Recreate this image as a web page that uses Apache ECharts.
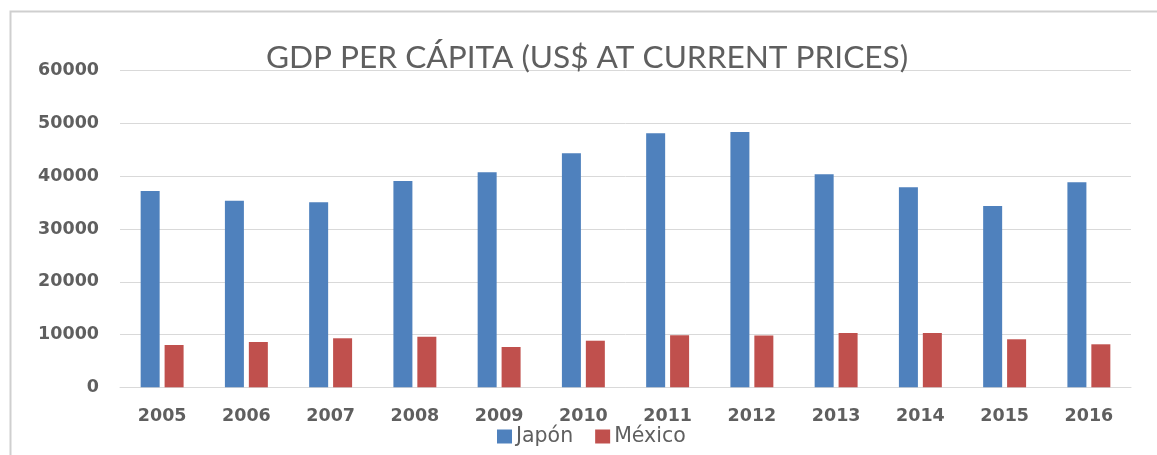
<!DOCTYPE html>
<html>
<head>
<meta charset="utf-8">
<script src="https://cdn.jsdelivr.net/npm/echarts@6/dist/echarts.min.js"></script>
<style>
html,body{margin:0;padding:0;background:#fff;}
#c{width:1157px;height:455px;}
</style>
</head>
<body>
<div id="c"></div>
<script>
const years = ['2005','2006','2007','2008','2009','2010','2011','2012','2013','2014','2015','2016'];
const japon = [37200, 35360, 35060, 39090, 40740, 44340, 48130, 48380, 40360, 37900, 34360, 38850];
const mexico = [8020, 8590, 9290, 9590, 7640, 8830, 9850, 9800, 10290, 10290, 9100, 8150];
const yTicks = [0, 10000, 20000, 30000, 40000, 50000, 60000];

const chart = echarts.init(document.getElementById('c'), null, {renderer: 'canvas'});
const txt = '#5f5f5f';
chart.setOption({
  animation: false,
  backgroundColor: '#fff',
  graphic: [{
    type: 'rect', left: 8, top: 9, silent: true, z: -1,
    shape: {width: 1200, height: 500},
    style: {fill: 'none', stroke: '#cfcfcf', lineWidth: 2}
  }],
  title: {
    text: 'GDP PER CÁPITA (US$ AT CURRENT PRICES)',
    left: 582, textAlign: 'center', top: 37,
    textStyle: {fontFamily: 'Lato', fontWeight: 'normal', fontSize: 31.6, color: txt}
  },
  legend: {
    bottom: 3, left: 492,
    itemWidth: 15, itemHeight: 14, itemGap: 22,
    icon: 'rect',
    textStyle: {fontFamily: 'DejaVu Sans', fontSize: 20.5, color: txt, padding: [0,0,0,-1]},
    data: ['Japón', 'México']
  },
  grid: {left: 120, right: 26, top: 70.7, bottom: 67.7},
  xAxis: {
    type: 'category', data: years,
    axisLine: {lineStyle: {color: '#d9d9d9', width: 1}},
    axisTick: {show: false},
    axisLabel: {fontFamily: 'DejaVu Sans', fontWeight: 'bold', fontSize: 17.5, color: txt, margin: 20}
  },
  yAxis: {
    type: 'value', min: yTicks[0], max: yTicks[yTicks.length-1], interval: 10000,
    axisLine: {show: false}, axisTick: {show: false},
    splitLine: {lineStyle: {color: '#d9d9d9', width: 1}},
    axisLabel: {fontFamily: 'DejaVu Sans', fontWeight: 'bold', fontSize: 17.5, color: txt, margin: 21,
      formatter: function (v) { return String(v); }}
  },
  series: [
    {name: 'Japón', type: 'bar', data: japon, barWidth: 19, barGap: '26%',
     itemStyle: {color: '#4F81BD'}},
    {name: 'México', type: 'bar', data: mexico, barWidth: 19,
     itemStyle: {color: '#C0504D'}}
  ]
});
</script>
</body>
</html>
